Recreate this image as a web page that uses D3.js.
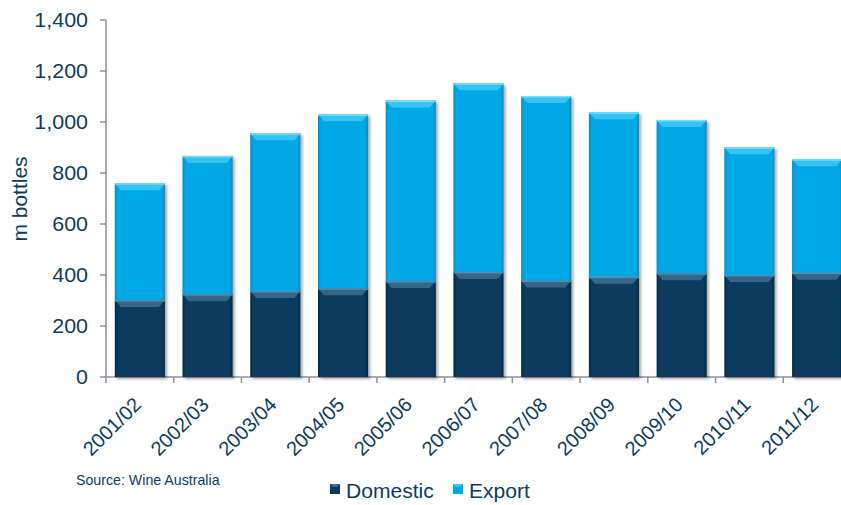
<!DOCTYPE html>
<html><head><meta charset="utf-8">
<script src="https://cdn.jsdelivr.net/npm/d3@7"></script>
<style>body{margin:0;background:#fff}svg{display:block}text{font-family:"Liberation Sans",Arial,sans-serif}</style>
</head><body><svg id="c" width="841" height="505"></svg>
<script>
const categories = ["2001/02","2002/03","2003/04","2004/05","2005/06","2006/07","2007/08","2008/09","2009/10","2010/11","2011/12"];
const domestic = [302,325,337,348,376,412,378,393,407,400,409];
const exportVals = [458,542,619,682,708,740,724,645,601,501,445];
const yTicks = [0,200,400,600,800,1000,1200,1400];
const seriesNames = ["Domestic","Export"];

const svg = d3.select("#c");
const textCol = "#0d3c5e", axisCol = "#8a929e";
const x = d3.scaleBand().domain(categories).range([106, 851]).paddingInner(0.26).paddingOuter(0.13);
const y = d3.scaleLinear().domain([0,1400]).range([377, 20]);

const defs = svg.append("defs");
function grad(id, c1, c2){
  const g = defs.append("linearGradient").attr("id", id).attr("x1","0").attr("x2","1").attr("y1","0").attr("y2","0");
  g.append("stop").attr("offset","0").attr("stop-color", c2);
  g.append("stop").attr("offset","0.06").attr("stop-color", c1);
  g.append("stop").attr("offset","0.94").attr("stop-color", c1);
  g.append("stop").attr("offset","1").attr("stop-color", c2);
}
grad("gDom", "#073a5d", "#052c47");
grad("gExp", "#04a9e6", "#0a88bd");
const f = defs.append("filter").attr("id","sh").attr("x","-10%").attr("y","-5%").attr("width","130%").attr("height","115%");
f.append("feGaussianBlur").attr("in","SourceAlpha").attr("stdDeviation","1.5");
f.append("feOffset").attr("dx","2").attr("dy","1.5").attr("result","b");
f.append("feComponentTransfer").append("feFuncA").attr("type","linear").attr("slope","0.35");
const fm = f.append("feMerge"); fm.append("feMergeNode"); fm.append("feMergeNode").attr("in","SourceGraphic");

// axes
svg.append("line").attr("x1",106).attr("x2",106).attr("y1",y(1400)).attr("y2",y(0)).attr("stroke",axisCol).attr("stroke-width",1.5);
svg.append("line").attr("x1",106).attr("x2",841).attr("y1",y(0)).attr("y2",y(0)).attr("stroke",axisCol).attr("stroke-width",1.5);
yTicks.forEach(t=>{
  svg.append("line").attr("x1",100).attr("x2",106).attr("y1",y(t)).attr("y2",y(t)).attr("stroke",axisCol).attr("stroke-width",1.5);
  svg.append("text").attr("transform",`translate(88,${y(t)}) scale(1.1,1)`).attr("dy","0.35em").attr("text-anchor","end")
    .attr("font-size",19.5).attr("fill",textCol).text(d3.format(",")(t));
});
categories.forEach((c,i)=>{
  const xs = x(c) - x.step()*x.paddingInner()/2;
  svg.append("line").attr("x1",xs).attr("x2",xs).attr("y1",y(0)).attr("y2",y(0)+6).attr("stroke",axisCol).attr("stroke-width",1.5);
});

// bars
const g = svg.append("g");
categories.forEach((c,i)=>{
  const segs = [{v0:0,v1:domestic[i],fill:"url(#gDom)",bev:"#3b6c8d",hl:"#5d8aa8"},
                {v0:domestic[i],v1:domestic[i]+exportVals[i],fill:"url(#gExp)",bev:"#3cc6f3",hl:"#7fdcf8"}];
  const bx = x(c), bw = x.bandwidth();
  const bg = g.append("g").attr("filter","url(#sh)");
  segs.forEach(s=>{
    const yt = y(s.v1), yb = y(s.v0);
    bg.append("rect").attr("x",bx).attr("y",yt).attr("width",bw).attr("height",yb-yt).attr("fill",s.fill);
    const bh = 7, ins = 6;
    bg.append("path").attr("d",`M${bx},${yt}L${bx+bw},${yt}L${bx+bw-ins},${yt+bh}L${bx+ins},${yt+bh}Z`).attr("fill",s.bev).attr("opacity",0.9);
    bg.append("rect").attr("x",bx).attr("y",yt).attr("width",bw).attr("height",1.5).attr("fill",s.hl);
  });
});

// x labels
categories.forEach(c=>{
  const cx = x(c) + x.bandwidth()/2 + 2.5;
  svg.append("text").attr("transform",`translate(${cx},${y(0)+29}) rotate(-45)`).attr("text-anchor","end")
    .attr("font-size",20).attr("fill",textCol).text(c);
});

// y label
svg.append("text").attr("transform","translate(27,199) rotate(-90)").attr("text-anchor","middle")
  .attr("font-size",21).attr("fill",textCol).text("m bottles");

// source
svg.append("text").attr("x",76).attr("y",485).attr("font-size",14.2).attr("fill",textCol).text("Source: Wine Australia");

// legend
const leg = [{name:seriesNames[0], fill:"#073a5d", bev:"#3b6c8d", x:330, tx:346},
             {name:seriesNames[1], fill:"#04a9e6", bev:"#3cc6f3", x:453, tx:469}];
leg.forEach(l=>{
  svg.append("rect").attr("x",l.x).attr("y",484).attr("width",10).attr("height",10).attr("fill",l.fill);
  svg.append("path").attr("d",`M${l.x},484L${l.x+10},484L${l.x+7},487L${l.x+3},487Z`).attr("fill",l.bev);
  svg.append("text").attr("transform",`translate(${l.tx},498) scale(1.08,1)`).attr("font-size",19.5).attr("fill",textCol).text(l.name);
});
</script></body></html>
